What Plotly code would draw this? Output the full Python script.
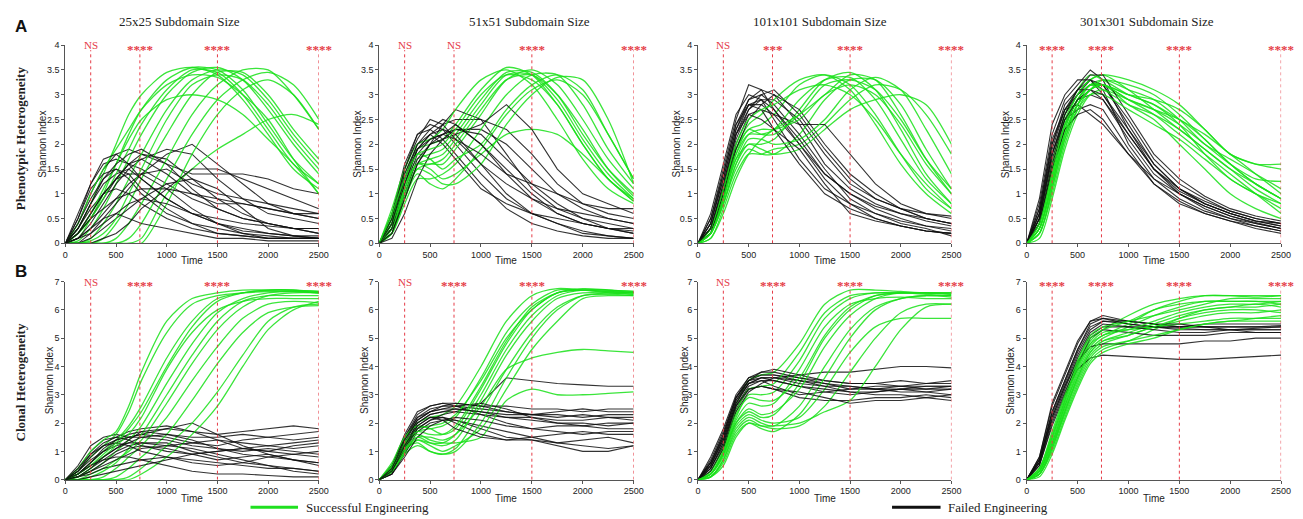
import plotly.graph_objects as go

# ---------------- data ----------------
TIME = [0, 125, 250, 375, 500, 625, 750, 1000, 1250, 1500, 1750, 2000, 2250, 2500]

ROW_TITLES = ["Phenotypic Heterogeneity", "Clonal Heterogeneity"]
COL_TITLES = ["25x25 Subdomain Size", "51x51 Subdomain Size", "101x101 Subdomain Size", "301x301 Subdomain Size"]
Y_TICKS_TOP = [0, 0.5, 1, 1.5, 2, 2.5, 3, 3.5, 4]
Y_TICKS_BOTTOM = [0, 1, 2, 3, 4, 5, 6, 7]
X_TICKS = [0, 500, 1000, 1500, 2000, 2500]
MARK_TIMES = [250, 735, 1500, 2500]
SIG_TOP = [["NS", "****", "****", "****"],
           ["NS", "NS", "****", "****"],
           ["NS", "***", "****", "****"],
           ["****", "****", "****", "****"]]
SIG_BOTTOM = [["NS", "****", "****", "****"],
              ["NS", "****", "****", "****"],
              ["NS", "****", "****", "****"],
              ["****", "****", "****", "****"]]

# Phenotypic heterogeneity, 25x25
A1_GREEN = [
    [0, 0.3, 0.8, 1.4, 2.0, 2.6, 3.0, 3.45, 3.55, 3.4, 2.9, 2.2, 1.5, 1.1],
    [0, 0.1, 0.5, 1.0, 1.6, 2.2, 2.7, 3.3, 3.55, 3.5, 3.1, 2.4, 1.7, 1.2],
    [0, 0.05, 0.3, 0.7, 1.2, 1.7, 2.2, 3.0, 3.45, 3.55, 3.3, 2.7, 2.0, 1.4],
    [0, 0, 0.1, 0.4, 0.8, 1.3, 1.8, 2.7, 3.3, 3.5, 3.4, 2.9, 2.2, 1.6],
    [0, 0, 0, 0.1, 0.4, 0.8, 1.3, 2.2, 3.0, 3.45, 3.45, 3.0, 2.3, 1.7],
    [0, 0, 0, 0, 0.1, 0.4, 0.8, 1.7, 2.6, 3.2, 3.5, 3.5, 3.0, 2.3],
    [0, 0, 0, 0, 0, 0.1, 0.4, 1.3, 2.2, 2.9, 3.3, 3.45, 3.2, 2.5],
    [0, 0.2, 0.6, 1.1, 1.6, 2.1, 2.5, 2.9, 3.0, 2.9, 2.6, 2.1, 1.6, 1.0],
    [0, 0, 0, 0, 0, 0, 0.1, 1.0, 1.5, 1.9, 2.2, 2.5, 2.6, 2.4],
    [0, 0.4, 1.0, 1.5, 1.9, 2.3, 2.7, 3.2, 3.4, 3.35, 3.0, 2.5, 1.7, 1.0],
    [0, 0, 0.05, 0.2, 0.5, 1.0, 1.5, 2.5, 3.2, 3.4, 3.3, 2.8, 2.1, 1.5],
    [0, 0, 0, 0, 0, 0, 0, 0.8, 1.8, 2.6, 3.1, 3.3, 3.0, 2.3],
    [0, 0.2, 0.5, 0.9, 1.4, 1.9, 2.4, 3.1, 3.5, 3.45, 3.0, 2.3, 1.6, 1.2],
]
A1_BLACK = [
    [0, 0.6, 1.2, 1.6, 1.7, 1.6, 1.5, 1.2, 0.9, 0.7, 0.5, 0.4, 0.3, 0.2],
    [0, 0.4, 1.0, 1.5, 1.8, 1.9, 1.8, 1.6, 1.4, 1.4, 1.4, 1.3, 1.1, 1.0],
    [0, 0.2, 0.6, 1.0, 1.3, 1.6, 1.8, 1.7, 1.3, 0.9, 0.6, 0.4, 0.3, 0.2],
    [0, 0.1, 0.4, 0.8, 1.2, 1.5, 1.7, 1.9, 1.8, 1.3, 0.9, 0.6, 0.5, 0.4],
    [0, 0, 0.2, 0.5, 0.8, 1.1, 1.4, 1.8, 2.0, 1.6, 1.2, 0.8, 0.6, 0.5],
    [0, 0.3, 0.7, 1.0, 1.1, 1.0, 0.8, 0.5, 0.3, 0.2, 0.15, 0.1, 0.1, 0.1],
    [0, 0.1, 0.3, 0.6, 0.9, 1.2, 1.4, 1.5, 1.2, 1.0, 0.9, 0.8, 0.7, 0.6],
    [0, 0, 0.1, 0.3, 0.5, 0.7, 0.9, 1.2, 1.3, 1.1, 0.7, 0.3, 0.15, 0.1],
    [0, 0.5, 1.1, 1.4, 1.5, 1.3, 1.0, 0.6, 0.4, 0.3, 0.2, 0.15, 0.1, 0.1],
    [0, 0.2, 0.5, 0.9, 1.3, 1.6, 1.7, 1.4, 1.0, 0.8, 0.8, 0.7, 0.6, 0.5],
    [0, 0, 0, 0.1, 0.2, 0.4, 0.7, 1.1, 1.5, 1.5, 1.3, 1.1, 0.9, 0.7],
    [0, 0.3, 0.8, 1.2, 1.4, 1.5, 1.3, 0.9, 0.6, 0.4, 0.3, 0.2, 0.15, 0.1],
    [0, 0.1, 0.2, 0.4, 0.6, 0.8, 0.9, 0.8, 0.6, 0.4, 0.2, 0.1, 0.1, 0.1],
    [0, 0.4, 0.9, 1.3, 1.6, 1.8, 1.9, 1.6, 1.1, 0.7, 0.5, 0.4, 0.3, 0.3],
    [0, 0.2, 0.5, 0.7, 0.9, 1.0, 1.1, 1.1, 1.0, 0.9, 0.8, 0.7, 0.6, 0.6],
    [0, 0.1, 0.3, 0.5, 0.6, 0.5, 0.4, 0.3, 0.2, 0.1, 0.1, 0.05, 0.05, 0.05],
    [0, 0.3, 0.8, 1.3, 1.5, 1.4, 1.1, 0.7, 0.4, 0.2, 0.15, 0.1, 0.1, 0.1],
    [0, 0.2, 0.6, 1.0, 1.3, 1.4, 1.4, 1.1, 0.7, 0.4, 0.25, 0.2, 0.15, 0.15],
    [0, 0.5, 1.2, 1.7, 1.8, 1.6, 1.3, 0.9, 0.6, 0.5, 0.4, 0.35, 0.3, 0.3],
]

# Phenotypic heterogeneity, 51x51
A2_GREEN = [
    [0, 0.6, 1.4, 1.9, 2.0, 2.1, 2.4, 3.1, 3.55, 3.4, 2.8, 2.0, 1.3, 0.9],
    [0, 0.4, 1.2, 1.7, 1.8, 1.9, 2.2, 2.9, 3.45, 3.45, 3.0, 2.2, 1.5, 1.0],
    [0, 0.3, 1.0, 1.5, 1.6, 1.6, 1.9, 2.6, 3.3, 3.5, 3.2, 2.5, 1.7, 1.1],
    [0, 0.2, 0.8, 1.3, 1.3, 1.4, 1.6, 2.3, 3.0, 3.4, 3.4, 2.8, 1.9, 1.2],
    [0, 0.5, 1.3, 1.8, 1.7, 1.5, 1.7, 2.0, 2.7, 3.2, 3.4, 3.1, 2.2, 1.3],
    [0, 0.3, 1.1, 1.6, 1.5, 1.3, 1.4, 1.8, 2.2, 2.3, 2.2, 1.8, 1.3, 0.85],
    [0, 0.7, 1.5, 2.0, 2.1, 2.3, 2.7, 3.3, 3.5, 3.2, 2.5, 1.7, 1.1, 0.8],
    [0, 0.2, 0.9, 1.4, 1.2, 1.1, 1.3, 1.9, 2.6, 3.1, 3.3, 3.0, 2.2, 1.3],
    [0, 0.5, 1.2, 1.6, 1.7, 1.8, 2.1, 2.8, 3.4, 3.4, 2.9, 2.1, 1.4, 0.9],
    [0, 0.3, 1.0, 1.5, 1.4, 1.2, 1.2, 1.6, 2.4, 3.0, 3.35, 3.3, 2.5, 1.2],
    [0, 0.4, 1.1, 1.6, 1.6, 1.7, 2.0, 2.7, 3.3, 3.4, 3.0, 2.3, 1.5, 0.95],
    [0, 0.6, 1.3, 1.8, 1.9, 2.0, 2.3, 3.0, 3.4, 3.3, 2.8, 2.0, 1.3, 0.85],
]
A2_BLACK = [
    [0, 0.5, 1.5, 2.2, 2.4, 2.3, 2.0, 1.4, 0.9, 0.6, 0.4, 0.25, 0.15, 0.1],
    [0, 0.4, 1.3, 2.0, 2.3, 2.5, 2.4, 2.0, 1.5, 1.0, 0.6, 0.4, 0.3, 0.2],
    [0, 0.3, 1.1, 1.8, 2.1, 2.2, 2.3, 2.3, 2.0, 1.5, 1.0, 0.7, 0.5, 0.4],
    [0, 0.2, 0.9, 1.6, 2.0, 2.4, 2.7, 2.5, 1.8, 1.1, 0.7, 0.5, 0.4, 0.3],
    [0, 0.6, 1.6, 2.2, 2.3, 2.1, 1.8, 1.2, 0.7, 0.4, 0.25, 0.15, 0.1, 0.1],
    [0, 0.3, 1.2, 1.9, 2.2, 2.4, 2.5, 2.5, 2.3, 1.8, 1.2, 0.8, 0.6, 0.5],
    [0, 0.2, 1.0, 1.7, 2.0, 2.1, 2.2, 2.4, 2.8, 2.3, 1.5, 1.0, 0.8, 0.6],
    [0, 0.4, 1.4, 2.0, 2.2, 2.0, 1.7, 1.1, 0.8, 0.6, 0.5, 0.4, 0.3, 0.3],
    [0, 0.1, 0.6, 1.3, 1.8, 2.1, 2.3, 2.2, 1.7, 1.2, 0.8, 0.5, 0.3, 0.2],
    [0, 0.5, 1.5, 2.1, 2.5, 2.4, 2.1, 1.6, 1.2, 0.9, 0.7, 0.6, 0.5, 0.4],
    [0, 0.3, 1.2, 1.9, 2.1, 2.2, 2.1, 1.8, 1.4, 1.2, 1.0, 0.8, 0.7, 0.7],
    [0, 0.4, 1.3, 1.9, 2.2, 2.3, 2.2, 1.6, 1.0, 0.6, 0.4, 0.2, 0.15, 0.1],
    [0, 0.2, 0.9, 1.6, 2.0, 2.2, 2.4, 2.0, 1.4, 0.9, 0.6, 0.4, 0.3, 0.25],
]

# Phenotypic heterogeneity, 101x101
A3_GREEN = [
    [0, 0.3, 1.1, 1.9, 2.3, 2.4, 2.6, 3.2, 3.4, 3.2, 2.6, 1.8, 1.1, 0.7],
    [0, 0.2, 0.9, 1.7, 2.0, 2.0, 2.1, 2.7, 3.3, 3.45, 3.1, 2.3, 1.4, 0.8],
    [0, 0.2, 0.8, 1.5, 1.9, 1.8, 1.8, 2.2, 2.9, 3.3, 3.3, 2.8, 1.9, 1.1],
    [0, 0.3, 1.0, 1.9, 2.4, 2.6, 2.9, 3.3, 3.4, 3.1, 2.4, 1.6, 1.0, 0.6],
    [0, 0.1, 0.7, 1.4, 1.8, 1.8, 1.9, 2.0, 2.4, 2.9, 3.2, 3.1, 2.6, 1.8],
    [0, 0.2, 0.8, 1.6, 2.0, 1.9, 1.8, 1.9, 2.3, 2.7, 2.9, 3.0, 2.8, 2.0],
    [0, 0.3, 1.0, 1.8, 2.2, 2.2, 2.3, 2.9, 3.3, 3.35, 2.9, 2.1, 1.3, 0.8],
    [0, 0.1, 0.6, 1.3, 1.8, 2.1, 2.3, 2.6, 3.0, 3.4, 3.3, 2.6, 1.7, 1.0],
    [0, 0.2, 0.9, 1.7, 2.2, 2.3, 2.3, 2.5, 3.0, 3.2, 3.0, 2.4, 1.6, 1.0],
    [0, 0.2, 0.8, 1.6, 2.1, 2.1, 2.0, 2.1, 2.5, 3.1, 3.35, 3.1, 2.3, 1.4],
    [0, 0.3, 1.1, 2.0, 2.5, 2.7, 2.8, 3.1, 3.2, 3.0, 2.5, 1.8, 1.2, 0.7],
    [0, 0.2, 0.9, 1.8, 2.3, 2.2, 2.2, 2.6, 3.2, 3.3, 3.1, 2.5, 1.7, 1.1],
]
A3_BLACK = [
    [0, 0.5, 1.5, 2.5, 3.2, 3.1, 2.7, 2.0, 1.4, 1.0, 0.7, 0.5, 0.35, 0.25],
    [0, 0.4, 1.3, 2.3, 2.9, 3.1, 3.0, 2.4, 1.6, 1.1, 0.8, 0.6, 0.5, 0.4],
    [0, 0.3, 1.1, 2.1, 2.7, 2.9, 2.9, 2.5, 1.8, 1.2, 0.9, 0.7, 0.5, 0.4],
    [0, 0.6, 1.6, 2.6, 3.0, 2.9, 2.5, 1.7, 1.1, 0.8, 0.6, 0.45, 0.35, 0.3],
    [0, 0.2, 0.9, 1.9, 2.5, 2.8, 3.0, 2.7, 2.0, 1.4, 1.0, 0.7, 0.5, 0.4],
    [0, 0.3, 1.2, 2.2, 2.8, 2.8, 2.6, 2.0, 1.3, 0.8, 0.5, 0.35, 0.25, 0.2],
    [0, 0.4, 1.4, 2.4, 2.9, 3.0, 2.8, 2.2, 1.5, 0.9, 0.6, 0.4, 0.3, 0.15],
    [0, 0.2, 1.0, 2.0, 2.6, 2.7, 2.6, 2.4, 2.4, 1.8, 1.2, 0.8, 0.6, 0.5],
    [0, 0.5, 1.4, 2.4, 2.8, 2.7, 2.3, 1.6, 1.0, 0.7, 0.5, 0.35, 0.25, 0.2],
    [0, 0.3, 1.1, 2.2, 2.7, 3.0, 3.1, 2.6, 1.9, 1.3, 0.9, 0.7, 0.6, 0.55],
    [0, 0.4, 1.3, 2.3, 2.8, 2.9, 2.7, 2.1, 1.4, 1.0, 0.75, 0.6, 0.45, 0.35],
    [0, 0.3, 1.2, 2.2, 2.6, 2.5, 2.3, 1.9, 1.2, 0.6, 0.45, 0.35, 0.25, 0.2],
]

# Phenotypic heterogeneity, 301x301
A4_GREEN = [
    [0, 0.5, 1.6, 2.6, 3.1, 3.4, 3.3, 3.0, 2.8, 2.4, 1.8, 1.3, 1.0, 0.7],
    [0, 0.3, 1.3, 2.3, 2.9, 3.2, 3.3, 3.2, 3.0, 2.6, 2.1, 1.6, 1.2, 0.9],
    [0, 0.2, 1.1, 2.1, 2.8, 3.2, 3.2, 2.9, 2.6, 2.2, 1.8, 1.4, 1.0, 0.6],
    [0, 0.4, 1.5, 2.5, 3.0, 3.3, 3.4, 3.3, 3.1, 2.8, 2.3, 1.8, 1.6, 1.5],
    [0, 0.2, 1.0, 2.0, 2.7, 3.1, 3.2, 2.8, 2.5, 2.0, 1.5, 1.0, 0.7, 0.5],
    [0, 0.3, 1.2, 2.2, 2.8, 3.1, 3.3, 3.1, 2.9, 2.5, 2.0, 1.7, 1.4, 1.1],
    [0, 0.4, 1.4, 2.4, 3.0, 3.3, 3.4, 3.1, 2.7, 2.3, 1.9, 1.5, 1.2, 0.9],
    [0, 0.1, 0.9, 1.9, 2.6, 3.0, 3.1, 2.9, 2.7, 2.4, 2.0, 1.6, 1.3, 1.25],
    [0, 0.3, 1.3, 2.3, 2.9, 3.2, 3.2, 3.0, 2.8, 2.5, 2.2, 1.8, 1.4, 1.0],
    [0, 0.2, 1.1, 2.1, 2.7, 3.0, 3.0, 2.7, 2.4, 2.1, 1.7, 1.3, 1.0, 0.8],
    [0, 0.4, 1.4, 2.4, 2.9, 3.2, 3.1, 2.8, 2.6, 2.3, 1.9, 1.5, 1.1, 0.8],
    [0, 0.3, 1.2, 2.2, 2.8, 3.1, 3.2, 3.0, 2.9, 2.7, 2.3, 1.8, 1.6, 1.6],
    [0, 0.3, 1.2, 2.2, 2.8, 3.1, 3.2, 2.9, 2.7, 2.5, 2.1, 1.6, 1.2, 0.9],
]
A4_BLACK = [
    [0, 0.8, 2.2, 2.9, 3.2, 3.5, 3.3, 2.3, 1.5, 1.1, 0.8, 0.6, 0.45, 0.35],
    [0, 0.6, 2.0, 2.7, 3.1, 3.3, 3.1, 2.0, 1.3, 0.9, 0.65, 0.5, 0.4, 0.3],
    [0, 0.5, 1.8, 2.6, 3.0, 3.2, 3.2, 2.4, 1.6, 1.1, 0.8, 0.6, 0.45, 0.4],
    [0, 0.7, 2.1, 2.7, 2.8, 2.6, 2.4, 1.8, 1.2, 0.8, 0.6, 0.45, 0.35, 0.25],
    [0, 0.4, 1.6, 2.4, 2.9, 3.0, 2.9, 2.1, 1.4, 1.0, 0.75, 0.55, 0.4, 0.3],
    [0, 0.6, 1.9, 2.7, 3.0, 3.3, 3.2, 2.5, 1.7, 1.2, 0.9, 0.65, 0.5, 0.4],
    [0, 0.5, 1.7, 2.5, 2.7, 2.8, 2.7, 1.9, 1.2, 0.85, 0.6, 0.45, 0.3, 0.2],
    [0, 0.9, 2.4, 3.0, 3.3, 3.3, 3.0, 2.2, 1.5, 1.0, 0.75, 0.55, 0.42, 0.3],
    [0, 0.5, 1.8, 2.6, 3.1, 3.4, 3.4, 2.6, 1.8, 1.3, 0.95, 0.7, 0.55, 0.45],
    [0, 0.4, 1.5, 2.3, 2.6, 2.7, 2.5, 1.8, 1.3, 1.0, 0.7, 0.5, 0.35, 0.25],
    [0, 0.7, 2.0, 2.8, 3.1, 3.1, 2.9, 2.2, 1.5, 1.05, 0.8, 0.6, 0.45, 0.35],
    [0, 0.6, 1.8, 2.5, 2.9, 3.1, 3.0, 2.3, 1.6, 1.1, 0.85, 0.65, 0.5, 0.4],
]

# Clonal heterogeneity, 25x25
B1_GREEN = [
    [0, 0.3, 0.8, 1.2, 1.6, 2.4, 3.5, 5.2, 6.2, 6.5, 6.6, 6.65, 6.65, 6.6],
    [0, 0.2, 0.6, 1.0, 1.4, 1.9, 2.6, 4.3, 5.6, 6.4, 6.6, 6.7, 6.7, 6.65],
    [0, 0.1, 0.3, 0.6, 1.0, 1.4, 1.9, 3.4, 4.8, 5.9, 6.4, 6.6, 6.65, 6.6],
    [0, 0, 0.2, 0.4, 0.7, 1.0, 1.4, 2.7, 4.1, 5.3, 6.1, 6.5, 6.6, 6.6],
    [0, 0, 0, 0.1, 0.4, 0.8, 1.2, 2.2, 3.5, 4.7, 5.7, 6.2, 6.3, 6.25],
    [0, 0, 0, 0, 0.1, 0.4, 0.8, 1.6, 2.8, 4.1, 5.2, 5.9, 6.1, 6.15],
    [0, 0, 0, 0, 0, 0.1, 0.4, 1.2, 2.0, 3.1, 4.4, 5.6, 6.1, 6.2],
    [0, 0.4, 1.0, 1.4, 1.7, 2.6, 3.8, 5.6, 6.4, 6.6, 6.7, 6.7, 6.7, 6.65],
    [0, 0, 0.1, 0.3, 0.6, 1.1, 1.6, 3.0, 4.4, 5.6, 6.3, 6.5, 6.5, 6.5],
    [0, 0, 0, 0, 0, 0, 0.2, 0.8, 1.6, 2.6, 4.0, 5.3, 6.0, 6.3],
    [0, 0.1, 0.4, 0.8, 1.2, 1.6, 2.2, 3.9, 5.2, 6.0, 6.3, 6.4, 6.4, 6.4],
    [0, 0.2, 0.5, 0.9, 1.3, 1.8, 2.4, 4.0, 5.4, 6.3, 6.6, 6.7, 6.7, 6.6],
]
B1_BLACK = [
    [0, 0.5, 1.2, 1.5, 1.6, 1.5, 1.6, 1.5, 1.3, 1.2, 1.4, 1.5, 1.6, 1.7],
    [0, 0.3, 0.9, 1.3, 1.5, 1.7, 1.8, 1.9, 1.7, 1.4, 1.1, 1.0, 1.2, 1.3],
    [0, 0.2, 0.6, 1.0, 1.3, 1.5, 1.6, 1.8, 2.0, 1.6, 1.2, 0.9, 0.7, 0.6],
    [0, 0.1, 0.4, 0.7, 1.0, 1.2, 1.3, 1.3, 1.0, 0.8, 0.6, 0.5, 0.4, 0.3],
    [0, 0.4, 1.0, 1.4, 1.5, 1.4, 1.2, 1.0, 0.9, 1.0, 1.1, 1.0, 0.9, 1.0],
    [0, 0.2, 0.5, 0.8, 1.1, 1.4, 1.7, 1.8, 1.7, 1.6, 1.7, 1.8, 1.9, 1.8],
    [0, 0.1, 0.3, 0.5, 0.7, 0.9, 1.1, 1.2, 1.1, 0.9, 0.7, 0.5, 0.3, 0.2],
    [0, 0.3, 0.7, 1.0, 1.2, 1.3, 1.3, 1.2, 1.3, 1.4, 1.3, 1.2, 1.3, 1.4],
    [0, 0.1, 0.2, 0.4, 0.5, 0.6, 0.7, 0.8, 0.7, 0.6, 0.5, 0.4, 0.4, 0.3],
    [0, 0.2, 0.6, 1.1, 1.4, 1.6, 1.7, 1.6, 1.5, 1.5, 1.6, 1.5, 1.4, 1.5],
    [0, 0.4, 0.9, 1.2, 1.3, 1.2, 1.0, 0.8, 0.6, 0.5, 0.6, 0.8, 0.9, 0.8],
    [0, 0.1, 0.4, 0.8, 1.1, 1.3, 1.5, 1.6, 1.4, 1.1, 0.9, 0.8, 0.7, 0.6],
    [0, 0, 0.1, 0.2, 0.3, 0.4, 0.5, 0.7, 0.9, 1.0, 1.1, 1.2, 1.1, 1.2],
    [0, 0.2, 0.5, 0.7, 0.8, 0.8, 0.7, 0.5, 0.3, 0.2, 0.2, 0.15, 0.1, 0.1],
    [0, 0.3, 0.8, 1.2, 1.4, 1.5, 1.5, 1.4, 1.2, 1.1, 1.0, 1.1, 1.0, 0.9],
    [0, 0.1, 0.3, 0.6, 0.9, 1.1, 1.2, 1.1, 0.9, 0.7, 0.8, 0.9, 0.7, 0.5],
]

# Clonal heterogeneity, 51x51
B2_GREEN = [
    [0, 0.5, 1.4, 2.0, 2.2, 2.3, 2.6, 4.0, 5.6, 6.5, 6.75, 6.7, 6.65, 6.6],
    [0, 0.4, 1.2, 1.7, 1.8, 1.9, 2.2, 3.6, 5.2, 6.2, 6.7, 6.7, 6.65, 6.6],
    [0, 0.3, 1.0, 1.4, 1.3, 1.3, 1.6, 3.0, 4.6, 5.8, 6.5, 6.7, 6.7, 6.65],
    [0, 0.4, 1.1, 1.3, 1.0, 0.9, 1.1, 2.4, 3.9, 5.2, 6.1, 6.5, 6.55, 6.5],
    [0, 0.3, 1.0, 1.4, 1.2, 1.0, 1.2, 1.8, 3.2, 4.6, 5.6, 6.4, 6.5, 6.5],
    [0, 0.5, 1.3, 1.8, 1.9, 2.0, 2.3, 3.5, 5.0, 6.0, 6.6, 6.75, 6.7, 6.65],
    [0, 0.3, 1.0, 1.5, 1.5, 1.4, 1.6, 2.6, 3.9, 4.3, 4.5, 4.6, 4.55, 4.5],
    [0, 0.4, 1.2, 1.6, 1.4, 1.3, 1.3, 1.5, 2.8, 3.2, 3.0, 3.0, 3.05, 3.1],
    [0, 0.6, 1.5, 1.9, 1.8, 1.6, 1.8, 3.2, 4.8, 6.0, 6.6, 6.7, 6.6, 6.55],
    [0, 0.3, 0.9, 1.2, 1.0, 0.9, 1.0, 2.0, 3.6, 5.0, 6.0, 6.5, 6.6, 6.6],
    [0, 0.5, 1.3, 1.7, 1.6, 1.6, 1.9, 3.3, 4.9, 6.1, 6.6, 6.7, 6.7, 6.6],
    [0, 0.4, 1.1, 1.5, 1.3, 1.2, 1.4, 2.8, 4.4, 5.6, 6.4, 6.6, 6.6, 6.55],
]
B2_BLACK = [
    [0, 0.4, 1.4, 2.2, 2.5, 2.6, 2.6, 2.5, 2.4, 2.3, 2.3, 2.2, 2.3, 2.3],
    [0, 0.3, 1.2, 2.0, 2.3, 2.4, 2.5, 2.4, 2.2, 2.1, 2.0, 2.0, 1.9, 2.0],
    [0, 0.5, 1.6, 2.4, 2.6, 2.7, 2.6, 2.3, 2.0, 1.8, 1.7, 1.6, 1.7, 1.7],
    [0, 0.2, 1.0, 1.8, 2.1, 2.3, 2.4, 2.7, 3.6, 3.5, 3.4, 3.35, 3.3, 3.3],
    [0, 0.3, 1.1, 1.9, 2.2, 2.2, 2.1, 1.9, 1.7, 1.5, 1.3, 1.2, 1.1, 1.2],
    [0, 0.4, 1.5, 2.3, 2.6, 2.7, 2.7, 2.6, 2.6, 2.5, 2.5, 2.4, 2.5, 2.5],
    [0, 0.2, 0.9, 1.7, 2.0, 2.1, 2.1, 1.8, 1.5, 1.4, 1.2, 1.0, 1.0, 1.2],
    [0, 0.3, 1.2, 2.0, 2.3, 2.4, 2.4, 2.3, 2.2, 2.2, 2.1, 2.1, 2.2, 2.2],
    [0, 0.5, 1.5, 2.2, 2.4, 2.5, 2.6, 2.7, 2.5, 2.2, 2.0, 1.9, 1.8, 1.8],
    [0, 0.3, 1.1, 1.8, 2.1, 2.2, 2.0, 1.6, 1.4, 1.5, 1.6, 1.7, 1.6, 1.6],
    [0, 0.4, 1.3, 2.1, 2.4, 2.6, 2.7, 2.6, 2.4, 2.3, 2.4, 2.5, 2.4, 2.4],
    [0, 0.2, 0.8, 1.5, 1.9, 2.1, 2.2, 2.1, 1.9, 1.8, 1.9, 1.9, 2.0, 2.0],
    [0, 0.3, 1.2, 1.9, 2.2, 2.1, 1.8, 1.5, 1.4, 1.4, 1.3, 1.4, 1.5, 1.3],
    [0, 0.4, 1.4, 2.1, 2.4, 2.5, 2.5, 2.4, 2.3, 2.3, 2.2, 2.3, 2.2, 2.1],
]

# Clonal heterogeneity, 101x101
B3_GREEN = [
    [0, 0.3, 1.2, 2.6, 3.5, 3.7, 3.8, 4.8, 6.2, 6.7, 6.7, 6.65, 6.6, 6.6],
    [0, 0.2, 1.0, 2.2, 3.0, 3.0, 3.1, 4.2, 5.7, 6.4, 6.6, 6.6, 6.55, 6.5],
    [0, 0.2, 0.9, 2.0, 2.4, 2.2, 2.3, 3.4, 5.0, 6.0, 6.5, 6.6, 6.6, 6.55],
    [0, 0.1, 0.7, 1.8, 2.2, 2.0, 1.9, 2.6, 4.0, 5.3, 6.1, 6.4, 6.5, 6.45],
    [0, 0.2, 0.8, 1.9, 2.3, 2.1, 2.0, 2.2, 3.2, 4.5, 5.4, 5.7, 5.7, 5.7],
    [0, 0.1, 0.7, 1.7, 2.1, 1.9, 1.8, 1.9, 2.6, 3.8, 5.0, 5.9, 6.2, 6.2],
    [0, 0.3, 1.1, 2.4, 3.2, 3.3, 3.4, 4.5, 5.9, 6.5, 6.6, 6.6, 6.6, 6.6],
    [0, 0.2, 0.9, 2.1, 2.7, 2.6, 2.7, 3.9, 5.4, 6.2, 6.4, 6.45, 6.4, 6.4],
    [0, 0.1, 0.6, 1.6, 2.0, 1.8, 1.7, 2.3, 3.6, 5.0, 6.0, 6.4, 6.5, 6.5],
    [0, 0.1, 0.5, 1.5, 2.0, 1.9, 1.9, 2.0, 2.4, 2.8, 4.0, 5.3, 6.1, 6.2],
    [0, 0.2, 1.0, 2.3, 2.9, 2.8, 2.8, 3.6, 5.1, 6.1, 6.5, 6.6, 6.6, 6.6],
    [0, 0.2, 0.9, 2.0, 2.5, 2.3, 2.4, 3.2, 4.7, 5.8, 6.4, 6.6, 6.6, 6.55],
]
B3_BLACK = [
    [0, 0.6, 1.6, 2.9, 3.6, 3.7, 3.7, 3.6, 3.5, 3.4, 3.4, 3.3, 3.3, 3.3],
    [0, 0.5, 1.4, 2.7, 3.4, 3.6, 3.6, 3.7, 3.8, 3.8, 3.9, 4.0, 4.0, 3.95],
    [0, 0.4, 1.3, 2.6, 3.3, 3.5, 3.5, 3.3, 3.1, 3.0, 3.1, 3.2, 3.1, 3.0],
    [0, 0.8, 1.8, 3.0, 3.6, 3.8, 3.8, 3.6, 3.4, 3.2, 3.3, 3.3, 3.2, 3.2],
    [0, 0.4, 1.2, 2.5, 3.2, 3.3, 3.2, 2.9, 2.8, 2.8, 2.9, 2.9, 3.0, 2.9],
    [0, 0.6, 1.5, 2.8, 3.5, 3.7, 3.7, 3.5, 3.4, 3.3, 3.2, 3.3, 3.4, 3.4],
    [0, 0.5, 1.4, 2.7, 3.4, 3.5, 3.3, 3.0, 3.1, 3.2, 3.2, 3.1, 3.1, 3.2],
    [0, 0.7, 1.7, 2.9, 3.5, 3.8, 3.9, 3.7, 3.5, 3.4, 3.4, 3.5, 3.4, 3.5],
    [0, 0.3, 1.1, 2.4, 3.1, 3.4, 3.6, 3.5, 3.3, 3.1, 3.0, 3.0, 2.9, 2.8],
    [0, 0.5, 1.5, 2.8, 3.4, 3.6, 3.5, 3.3, 3.2, 3.1, 3.1, 3.2, 3.2, 3.3],
    [0, 0.4, 1.3, 2.6, 3.2, 3.3, 3.2, 3.1, 2.9, 2.7, 2.8, 2.8, 2.9, 3.0],
    [0, 0.6, 1.6, 2.9, 3.5, 3.6, 3.6, 3.4, 3.3, 3.3, 3.2, 3.2, 3.3, 3.3],
]

# Clonal heterogeneity, 301x301
B4_GREEN = [
    [0, 0.4, 1.6, 2.9, 4.0, 4.9, 5.3, 5.8, 6.2, 6.4, 6.5, 6.5, 6.45, 6.5],
    [0, 0.3, 1.3, 2.6, 3.7, 4.6, 5.0, 5.4, 5.8, 6.1, 6.3, 6.3, 6.3, 6.3],
    [0, 0.2, 1.1, 2.4, 3.5, 4.4, 4.8, 5.1, 5.4, 5.6, 5.8, 5.9, 5.9, 6.0],
    [0, 0.3, 1.4, 2.7, 3.9, 4.8, 5.2, 5.3, 5.4, 5.5, 5.6, 5.7, 5.7, 5.7],
    [0, 0.2, 1.0, 2.2, 3.3, 4.2, 4.6, 4.9, 5.3, 5.7, 6.0, 6.1, 6.1, 6.2],
    [0, 0.4, 1.7, 3.0, 4.2, 5.1, 5.4, 5.6, 5.8, 6.0, 6.2, 6.4, 6.4, 6.4],
    [0, 0.1, 0.9, 2.1, 3.2, 4.1, 4.5, 4.8, 5.0, 5.3, 5.5, 5.6, 5.7, 5.8],
    [0, 0.3, 1.5, 2.8, 4.0, 4.8, 5.1, 5.5, 6.0, 6.3, 6.5, 6.5, 6.5, 6.5],
    [0, 0.2, 1.2, 2.5, 3.6, 4.5, 4.9, 5.2, 5.5, 5.8, 6.0, 6.1, 6.2, 6.1],
    [0, 0.3, 1.3, 2.6, 3.8, 4.7, 5.1, 5.3, 5.6, 5.9, 6.1, 6.2, 6.2, 6.3],
    [0, 0.2, 1.1, 2.3, 3.4, 4.3, 4.7, 4.9, 5.1, 5.3, 5.5, 5.6, 5.6, 5.6],
    [0, 0.4, 1.5, 2.8, 4.1, 5.0, 5.3, 5.6, 6.0, 6.2, 6.3, 6.3, 6.3, 6.2],
    [0, 0.2, 1.2, 2.4, 3.6, 4.5, 4.9, 5.1, 5.4, 5.7, 5.9, 6.0, 6.0, 5.9],
]
B4_BLACK = [
    [0, 0.8, 2.6, 3.7, 4.8, 5.6, 5.8, 5.6, 5.5, 5.4, 5.4, 5.4, 5.4, 5.45],
    [0, 0.7, 2.3, 3.4, 4.5, 5.3, 5.6, 5.6, 5.5, 5.4, 5.4, 5.3, 5.3, 5.3],
    [0, 0.6, 2.1, 3.2, 4.3, 5.1, 5.4, 5.4, 5.4, 5.3, 5.3, 5.3, 5.2, 5.2],
    [0, 0.5, 1.9, 3.0, 3.9, 4.3, 4.4, 4.35, 4.3, 4.25, 4.25, 4.3, 4.35, 4.4],
    [0, 0.7, 2.4, 3.5, 4.6, 5.4, 5.6, 5.5, 5.4, 5.4, 5.5, 5.5, 5.5, 5.5],
    [0, 0.6, 2.2, 3.3, 4.2, 4.7, 4.8, 4.8, 4.8, 4.8, 4.9, 4.9, 5.0, 5.0],
    [0, 0.8, 2.7, 3.8, 4.9, 5.6, 5.7, 5.5, 5.4, 5.35, 5.3, 5.3, 5.35, 5.4],
    [0, 0.5, 2.0, 3.1, 4.1, 5.0, 5.3, 5.2, 5.1, 5.1, 5.1, 5.2, 5.2, 5.2],
    [0, 0.7, 2.4, 3.5, 4.6, 5.5, 5.7, 5.6, 5.5, 5.5, 5.4, 5.4, 5.4, 5.4],
    [0, 0.6, 2.2, 3.3, 4.4, 5.2, 5.5, 5.4, 5.3, 5.2, 5.2, 5.3, 5.3, 5.3],
]

PANELS = [[(A1_GREEN, A1_BLACK), (A2_GREEN, A2_BLACK), (A3_GREEN, A3_BLACK), (A4_GREEN, A4_BLACK)],
          [(B1_GREEN, B1_BLACK), (B2_GREEN, B2_BLACK), (B3_GREEN, B3_BLACK), (B4_GREEN, B4_BLACK)]]

# ---------------- layout helpers ----------------
W, H = 1303, 519
def px(x):
    return x / W
def py(y):
    return 1 - y / H

X_DOM_PX = [(63, 319), (380, 637), (702, 958), (1034, 1291)]
ROW_PX = [(41, 243), (282, 484)]
Y_MAX = [4, 7]
TITLE_X_PX = [178, 532, 825, 1156]
YTITLE_X_PX = [[40, 358, 680, 1012], [47, 365, 688, 1018]]
TIME_Y_PX = [261, 503]

GREEN = "rgba(25,225,25,0.85)"
BLACK = "rgba(15,15,15,0.85)"
RED = "#e53b46"
TICK_FONT = dict(family="Liberation Sans, Arial", size=9, color="#222")
SERIF = "Liberation Serif, Times New Roman, serif"
SANS = "Liberation Sans, Arial, sans-serif"

fig = go.Figure()
layout = dict(width=W, height=H, margin=dict(l=0, r=0, t=0, b=0),
              paper_bgcolor="white", plot_bgcolor="white", showlegend=False)
shapes = []
annotations = []


def note(x, y, text, font, **kw):
    d = dict(xref="paper", yref="paper", x=x, y=y, text=text, showarrow=False,
             xanchor="center", yanchor="middle", font=font)
    d.update(kw)
    annotations.append(d)


for r in range(2):
    for c in range(4):
        idx = r * 4 + c + 1
        xa = "x" if idx == 1 else f"x{idx}"
        ya = "y" if idx == 1 else f"y{idx}"
        xkey = "xaxis" if idx == 1 else f"xaxis{idx}"
        ykey = "yaxis" if idx == 1 else f"yaxis{idx}"
        green, black = PANELS[r][c]
        n = max(len(green), len(black))
        for i in range(n):
            if i < len(black):
                fig.add_trace(go.Scatter(x=TIME, y=black[i], mode="lines", xaxis=xa, yaxis=ya,
                                         line=dict(color=BLACK, width=1.1, shape="linear"),
                                         hoverinfo="skip"))
            if i < len(green):
                fig.add_trace(go.Scatter(x=TIME, y=green[i], mode="lines", xaxis=xa, yaxis=ya,
                                         line=dict(color=GREEN, width=1.3, shape="spline", smoothing=0.8),
                                         hoverinfo="skip"))
        x0, x1 = X_DOM_PX[c]
        yt, yb = ROW_PX[r]
        layout[xkey] = dict(domain=[px(x0), px(x1)], anchor=ya, range=[0, 2500],
                            tickvals=X_TICKS, ticks="outside", ticklen=3, tickcolor="#555",
                            showline=True, linecolor="#555", linewidth=1, showgrid=False,
                            zeroline=False, tickfont=TICK_FONT)
        layout[ykey] = dict(domain=[py(yb), py(yt)], anchor=xa, range=[0, Y_MAX[r]],
                            tickvals=Y_TICKS_TOP if r == 0 else Y_TICKS_BOTTOM,
                            ticks="outside", ticklen=3, tickcolor="#555",
                            showline=True, linecolor="#555", linewidth=1, showgrid=False,
                            zeroline=False, tickfont=TICK_FONT)
        sig = SIG_TOP[c] if r == 0 else SIG_BOTTOM[c]
        for t, s in zip(MARK_TIMES, sig):
            shapes.append(dict(type="line", xref=xa, yref=ya, x0=t, x1=t, y0=0, y1=Y_MAX[r] * 0.975,
                               line=dict(color=RED, width=1, dash="dot"), layer="above"))
            star = s.startswith("*")
            annotations.append(dict(xref=xa, yref=ya, x=t, y=Y_MAX[r], text=("<b>" + s + "</b>") if star else s,
                                    showarrow=False, xanchor="center", yanchor="middle",
                                    yshift=(-4 if star else 0),
                                    font=dict(family=SERIF, size=13 if star else 11, color=RED)))
        note(px(YTITLE_X_PX[r][c]), py((yt + yb) / 2), "Shannon Index",
             dict(family=SANS, size=10, color="#222"), textangle=-90)
        note(px((x0 + x1) / 2), py(TIME_Y_PX[r]), "Time", dict(family=SANS, size=10, color="#222"))
        if r == 0:
            note(px(TITLE_X_PX[c]), py(17), COL_TITLES[c], dict(family=SERIF, size=13, color="#222"))

# row titles and panel letters
note(px(18), py(136), "<b>" + ROW_TITLES[0] + "</b>", dict(family=SERIF, size=13, color="#222"), textangle=-90)
note(px(18), py(385), "<b>" + ROW_TITLES[1] + "</b>", dict(family=SERIF, size=13, color="#222"), textangle=-90)
note(px(18), py(22), "<b>A</b>", dict(family=SANS, size=17, color="#111"))
note(px(18), py(272), "<b>B</b>", dict(family=SANS, size=17, color="#111"))

# legend (drawn manually)
shapes.append(dict(type="line", xref="paper", yref="paper", x0=px(250), x1=px(298), y0=py(512), y1=py(512),
                   line=dict(color="#1fe01f", width=3)))
note(px(304), py(512), "Successful Engineering", dict(family=SERIF, size=13, color="#222"), xanchor="left")
shapes.append(dict(type="line", xref="paper", yref="paper", x0=px(898), x1=px(947), y0=py(512), y1=py(512),
                   line=dict(color="#111", width=3)))
note(px(952), py(512), "Failed Engineering", dict(family=SERIF, size=13, color="#222"), xanchor="left")

layout["shapes"] = shapes
layout["annotations"] = annotations
fig.update_layout(**layout)
fig.write_html("out.html", config={"displayModeBar": False},
               post_script="document.body.style.margin='0';document.body.style.overflow='hidden';")
